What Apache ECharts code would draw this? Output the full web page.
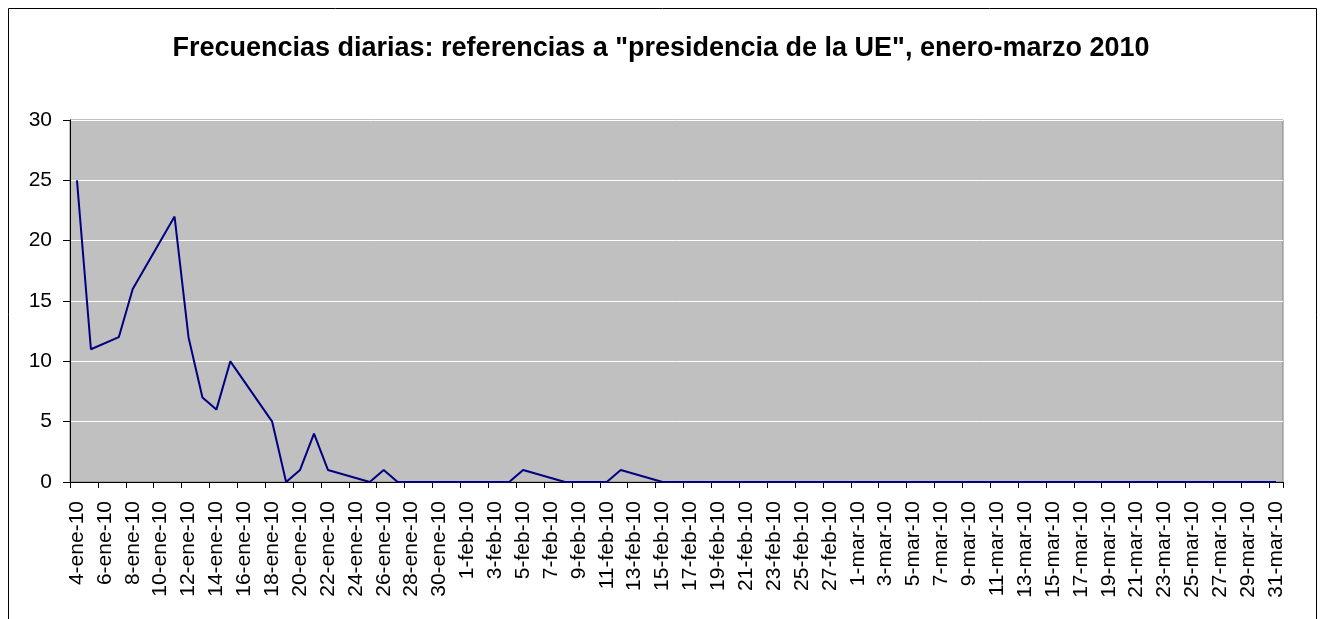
<!DOCTYPE html>
<html>
<head>
<meta charset="utf-8">
<title>Frecuencias diarias</title>
<script src="https://cdn.jsdelivr.net/npm/echarts@6/dist/echarts.min.js"></script>
<style>
  html, body { margin: 0; padding: 0; background: #fff; }
  #chart { width: 1322px; height: 619px; }
</style>
</head>
<body>
<div id="chart"></div>
<script>
// one category per calendar day, 4-ene-10 .. 31-mar-10
const days = [
  '4-ene-10', '5-ene-10', '6-ene-10', '7-ene-10', '8-ene-10', '9-ene-10', '10-ene-10',
  '11-ene-10', '12-ene-10', '13-ene-10', '14-ene-10', '15-ene-10', '16-ene-10', '17-ene-10',
  '18-ene-10', '19-ene-10', '20-ene-10', '21-ene-10', '22-ene-10', '23-ene-10', '24-ene-10',
  '25-ene-10', '26-ene-10', '27-ene-10', '28-ene-10', '29-ene-10', '30-ene-10', '31-ene-10',
  '1-feb-10', '2-feb-10', '3-feb-10', '4-feb-10', '5-feb-10', '6-feb-10', '7-feb-10',
  '8-feb-10', '9-feb-10', '10-feb-10', '11-feb-10', '12-feb-10', '13-feb-10', '14-feb-10',
  '15-feb-10', '16-feb-10', '17-feb-10', '18-feb-10', '19-feb-10', '20-feb-10', '21-feb-10',
  '22-feb-10', '23-feb-10', '24-feb-10', '25-feb-10', '26-feb-10', '27-feb-10', '28-feb-10',
  '1-mar-10', '2-mar-10', '3-mar-10', '4-mar-10', '5-mar-10', '6-mar-10', '7-mar-10',
  '8-mar-10', '9-mar-10', '10-mar-10', '11-mar-10', '12-mar-10', '13-mar-10', '14-mar-10',
  '15-mar-10', '16-mar-10', '17-mar-10', '18-mar-10', '19-mar-10', '20-mar-10', '21-mar-10',
  '22-mar-10', '23-mar-10', '24-mar-10', '25-mar-10', '26-mar-10', '27-mar-10', '28-mar-10',
  '29-mar-10', '30-mar-10', '31-mar-10'
];

// daily counts; null = no edition (weekends, 6-ene)
const counts = [
  25, 11, null, 12, 16, null, null,
  22, 12, 7, 6, 10, null, null,
  5, 0, 1, 4, 1, null, null,
  0, 1, 0, 0, 0, null, null,
  0, 0, 0, 0, 1, null, null,
  0, 0, 0, 0, 1, null, null,
  0, 0, 0, 0, 0, null, null,
  0, 0, 0, 0, 0, null, null,
  0, 0, 0, 0, 0, null, null,
  0, 0, 0, 0, 0, null, null,
  0, 0, 0, 0, 0, null, null,
  0, 0, 0, 0, 0, null, null,
  0, 0, 0
];

const titleText = 'Frecuencias diarias: referencias a "presidencia de la UE", enero-marzo 2010';
const font = '"Liberation Sans", Arial, sans-serif';

const chart = echarts.init(document.getElementById('chart'), null, { renderer: 'canvas' });

chart.setOption({
  animation: false,
  backgroundColor: '#fff',
  title: {
    text: titleText,
    left: 'center',
    top: 30,
    textStyle: { fontFamily: font, fontSize: 27, fontWeight: 'bold', color: '#000' }
  },
  graphic: [
    {
      type: 'rect',
      shape: { x: 8.5, y: 8.5, width: 1308, height: 700 },
      style: { fill: 'none', stroke: '#000', lineWidth: 1 },
      silent: true
    }
  ],
  grid: {
    show: true,
    left: 70,
    top: 120,
    right: 39,
    bottom: 137,
    backgroundColor: '#C0C0C0',
    borderColor: '#808080',
    borderWidth: 1
  },
  xAxis: {
    type: 'category',
    data: days,
    boundaryGap: true,
    axisLine: { show: true, lineStyle: { color: '#000', width: 1 } },
    axisTick: { show: true, interval: 1, length: 6, lineStyle: { color: '#000' } },
    axisLabel: {
      interval: 1,
      rotate: 90,
      margin: 19,
      fontFamily: font,
      fontSize: 21,
      color: '#000'
    },
    splitLine: { show: false }
  },
  yAxis: {
    type: 'value',
    min: 0,
    max: 30,
    interval: 5,
    axisLine: { show: true, lineStyle: { color: '#000', width: 1 } },
    axisTick: { show: true, length: 7, lineStyle: { color: '#000' } },
    axisLabel: { margin: 18, fontFamily: font, fontSize: 21, color: '#000' },
    splitLine: { show: true, lineStyle: { color: '#fff', width: 1 } }
  },
  series: [
    {
      type: 'line',
      data: counts,
      connectNulls: true,
      showSymbol: false,
      symbol: 'none',
      lineStyle: { color: '#000080', width: 2 },
      itemStyle: { color: '#000080' }
    }
  ]
});
</script>
</body>
</html>
